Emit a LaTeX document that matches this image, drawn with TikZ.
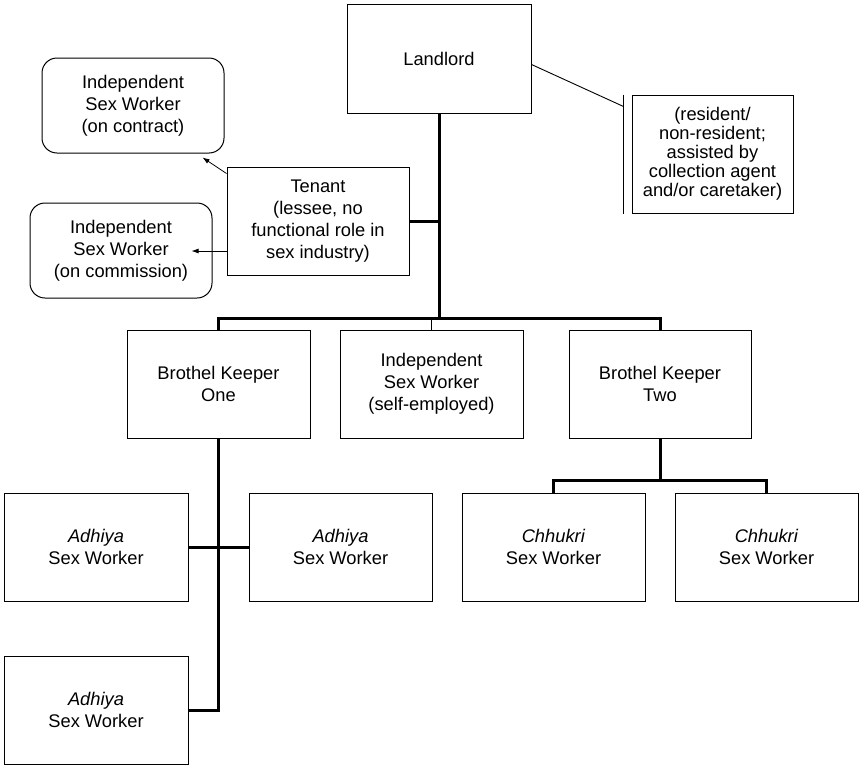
\documentclass[tikz,border=0pt]{standalone}
\usepackage{fontspec}
\setmainfont{Liberation Sans}
\usetikzlibrary{arrows.meta}

\tikzset{
  box/.style={draw,line width=1pt,align=center,inner sep=0pt,
    minimum width=183pt,minimum height=108pt,
    font=\fontsize{18.3}{22}\selectfont},
  roundbox/.style={box,rounded corners=15pt,minimum width=182pt,minimum height=95pt},
  link/.style={line width=3pt},
  thin link/.style={line width=0.9pt},
  pointer/.style={line width=0.8pt,-{Latex[length=7pt,width=5pt]}}
}

\begin{document}
\begin{tikzpicture}[x=1pt,y=-1pt]
    \useasboundingbox (0,0) rectangle (859,766);
    % top level
    \node[box,minimum width=184pt,minimum height=109pt] (landlord) at (439,58.5) {Landlord};
    \node[box,minimum width=161pt,minimum height=118pt,font=\fontsize{18.3}{19}\selectfont] (note) at (712.5,154)
        {(resident/\\non-resident;\\assisted by\\collection agent\\and/or caretaker)};
    \node[box,minimum width=182pt] (tenant) at (318,221) {Tenant\\(lessee, no\\functional role in\\sex industry)};
    \node[roundbox] (contract) at (133,105.5) {Independent\\Sex Worker\\(on contract)};
    \node[roundbox] (commission) at (121,250.5) {Independent\\Sex Worker\\(on commission)};
    % middle level
    \node[box] (bk1) at (218.5,384) {Brothel Keeper\\One};
    \node[box] (isw) at (431.5,384) {Independent\\Sex Worker\\(self-employed)};
    \node[box,minimum width=182pt] (bk2) at (660,384) {Brothel Keeper\\Two};
    % workers
    \node[box,minimum width=184pt] (adh1) at (96,547) {\textit{Adhiya}\\Sex Worker};
    \node[box] (adh2) at (340.5,547) {\textit{Adhiya}\\Sex Worker};
    \node[box,minimum width=184pt] (adh3) at (96,710) {\textit{Adhiya}\\Sex Worker};
    \node[box] (chh1) at (553.5,547) {\textit{Chhukri}\\Sex Worker};
    \node[box] (chh2) at (766.5,547) {\textit{Chhukri}\\Sex Worker};

    % connectors
    \coordinate (bar) at (landlord.south |- 0,318);
    \draw[link] (landlord.south) -- (bar);
    \draw[link] (bk1.north) |- (bar) -| (bk2.north);
    \draw[thin link] (isw.north) -- (isw.north |- bar);
    \draw[link] (tenant.east) -- (tenant.east -| landlord.south);
    \draw[thin link] ([yshift=-6pt]landlord.east) -- ([xshift=-8pt,yshift=-12pt]note.north west);
    \draw[thin link] ([xshift=-8pt]note.north west) -- ([xshift=-8pt]note.south west);
    \draw[pointer] ([yshift=-7pt]tenant.north west) -- ([xshift=-22pt,yshift=-4pt]contract.south east);
    \draw[pointer] ([yshift=-30pt]tenant.west) -- ([xshift=-21pt]commission.east |- 0,251);
    \draw[link] (bk1.south) |- (adh3.east);
    \draw[link] (adh1.east) -- (adh2.west);
    \draw[link] (bk2.south) -- ([yshift=-42pt]bk2.south);
    \draw[link] (chh1.north) |- ([yshift=-42pt]bk2.south) -| (chh2.north);
\end{tikzpicture}
\end{document}
